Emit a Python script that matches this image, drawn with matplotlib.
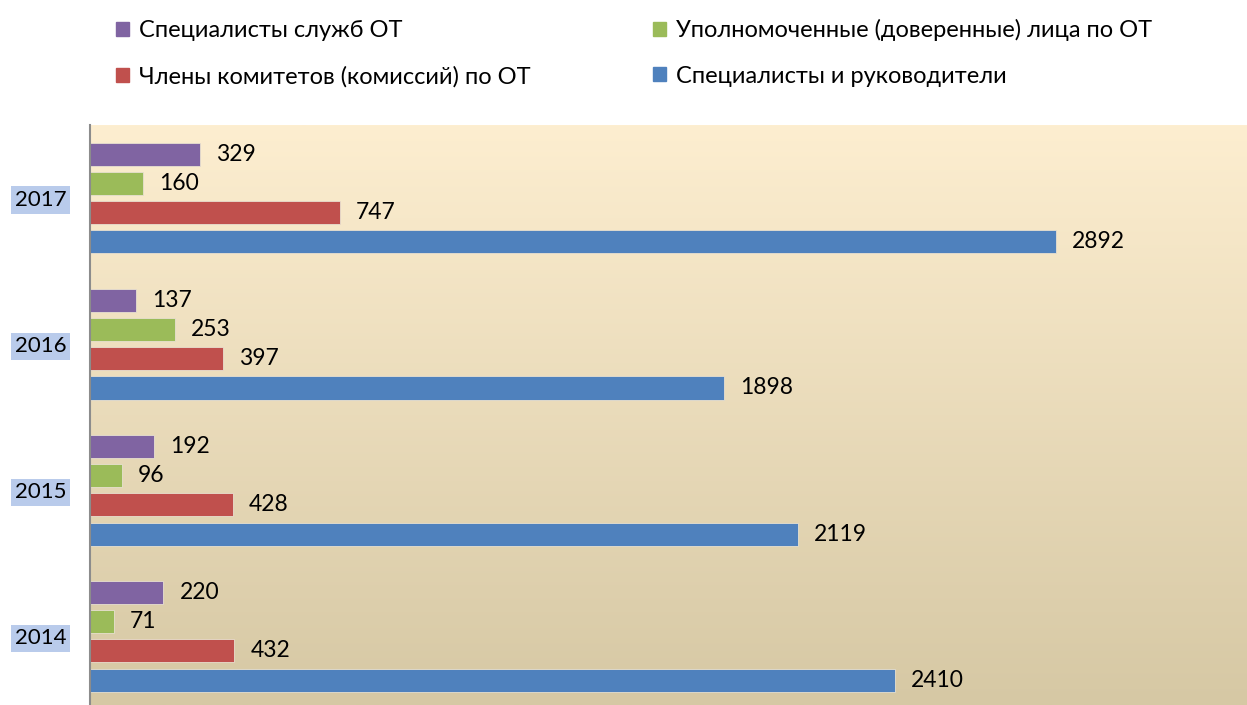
import numpy as np
import matplotlib.pyplot as plt
from matplotlib.patches import Patch

years = ['2014', '2015', '2016', '2017']
spec_ot = [220, 192, 137, 329]
upoln = [71, 96, 253, 160]
chleny = [432, 428, 397, 747]
spec_ruk = [2410, 2119, 1898, 2892]

series = [
    ('Специалисты служб ОТ', spec_ot, '#8064A2', 0.3),
    ('Уполномоченные (доверенные) лица по ОТ', upoln, '#9BBB59', 0.1),
    ('Члены комитетов (комиссий) по ОТ', chleny, '#C0504D', -0.1),
    ('Специалисты и руководители', spec_ruk, '#4F81BD', -0.3),
]

plt.rcParams['font.family'] = ['Lato', 'DejaVu Sans']

fig = plt.figure(figsize=(12.47, 7.05), dpi=100)
ax = fig.add_axes([90 / 1247, 0, 1 - 90 / 1247, (705 - 125) / 705])

# vertical gradient background
grad = np.linspace(0, 1, 256).reshape(-1, 1)
top = np.array([253, 238, 208]) / 255
bot = np.array([214, 200, 164]) / 255
img = top[None, None, :] * (1 - grad[:, :, None]) + bot[None, None, :] * grad[:, :, None]
ax.imshow(img, extent=[0, 1, 0, 1], transform=ax.transAxes, aspect='auto', zorder=0)

y = np.arange(len(years))
for name, vals, color, off in series:
    bars = ax.barh(y + off, vals, height=0.158, color=color,
                   edgecolor='#e8e0d0', linewidth=0.6, zorder=2)
    for b, v in zip(bars, vals):
        ax.annotate(str(v), (b.get_width(), b.get_y() + b.get_height() / 2),
                    xytext=(11.5, 0), textcoords='offset points',
                    va='center', ha='left', fontsize=16.5, color='black')

ax.set_xlim(0, 3464)
ax.set_ylim(-0.47, 3.5)
ax.set_xticks([])
ax.set_yticks(y)
ax.set_yticklabels(years, fontsize=16)
ax.tick_params(axis='y', length=0, pad=17)
for lab in ax.get_yticklabels():
    lab.set_bbox(dict(facecolor='#b9cbeb', edgecolor='none', pad=2.5))
for s in ['top', 'right', 'bottom']:
    ax.spines[s].set_visible(False)
ax.spines['left'].set_color('#8c8c8c')
ax.spines['left'].set_linewidth(1.5)
ax.spines['left'].set_zorder(3)

handles = [Patch(color=c) for _, _, c, _ in series]
labels = [n for n, _, _, _ in series]
order = [0, 2, 1, 3]
fig.legend([handles[i] for i in order], [labels[i] for i in order],
           ncol=2, loc='upper left', bbox_to_anchor=(95 / 1247, 1 + 2 / 705),
           frameon=False, fontsize=17, handlelength=0.55, handleheight=0.55,
           handletextpad=0.4, columnspacing=5.2, labelspacing=1.03)

fig.savefig('out.png', dpi=100)
